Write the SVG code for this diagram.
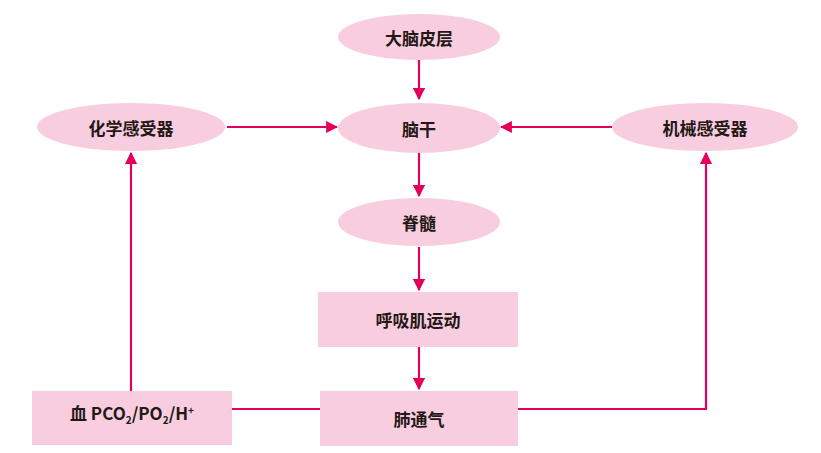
<svg xmlns="http://www.w3.org/2000/svg" width="821" height="453" viewBox="0 0 821 453">
<style>
.n{fill:#f9cde0;stroke:none}
.t{font-family:"Noto Sans CJK SC","Liberation Sans",sans-serif;font-size:17px;font-weight:bold;fill:#231815;text-anchor:middle;dominant-baseline:central}
.b{font-family:"Noto Sans CJK SC","Liberation Sans",sans-serif;font-size:17px;font-weight:bold;fill:#231815;text-anchor:middle}
.c{fill:none;stroke:#e4005a;stroke-width:2.2}
</style>
<defs>
<marker id="a" viewBox="0 0 10 10" refX="9" refY="5" markerWidth="5.5" markerHeight="5.5" orient="auto" markerUnits="strokeWidth">
<path d="M0,0 L10,5 L0,10 Z" fill="#e4005a"/>
</marker>
</defs>
<rect width="821" height="453" fill="#fff"/>
<g id="connectors">
<line class="c" x1="419" y1="60" x2="419" y2="99" marker-end="url(#a)"/>
<line class="c" x1="227" y1="127" x2="337" y2="127" marker-end="url(#a)"/>
<line class="c" x1="612" y1="127" x2="501" y2="127" marker-end="url(#a)"/>
<line class="c" x1="419" y1="153" x2="419" y2="196" marker-end="url(#a)"/>
<line class="c" x1="419" y1="247" x2="419" y2="290" marker-end="url(#a)"/>
<line class="c" x1="419" y1="347" x2="419" y2="389" marker-end="url(#a)"/>
<line class="c" x1="232" y1="409" x2="320" y2="409"/>
<polyline class="c" points="518,409 706,409 706,153" marker-end="url(#a)"/>
<line class="c" x1="131" y1="391" x2="131" y2="153" marker-end="url(#a)"/>
</g>
<g id="dnpc">
<ellipse class="n" cx="419" cy="37" rx="81" ry="23"/>
<text class="t" x="419" y="37">大脑皮层</text>
</g>
<g id="ng">
<ellipse class="n" cx="419" cy="128" rx="81" ry="25"/>
<text class="t" x="419" y="128">脑干</text>
</g>
<g id="hxgsq">
<ellipse class="n" cx="131" cy="127" rx="94" ry="24"/>
<text class="t" x="131" y="127">化学感受器</text>
</g>
<g id="jxgsq">
<ellipse class="n" cx="705" cy="127" rx="93" ry="24"/>
<text class="t" x="705" y="127">机械感受器</text>
</g>
<g id="js">
<ellipse class="n" cx="419" cy="222" rx="81" ry="24"/>
<text class="t" x="419" y="222">脊髓</text>
</g>
<g id="hxjyd">
<rect class="n" x="318" y="292" width="200" height="55"/>
<text class="t" x="418" y="319">呼吸肌运动</text>
</g>
<g id="ftq">
<rect class="n" x="320" y="391" width="198" height="55"/>
<text class="t" x="419" y="418">肺通气</text>
</g>
<g id="blood">
<rect class="n" x="32" y="391" width="200" height="54"/>
<text class="b" x="132" y="420"><tspan>血 PCO</tspan><tspan font-size="10" dy="4">2</tspan><tspan dy="-4">/PO</tspan><tspan font-size="10" dy="4">2</tspan><tspan dy="-4">/H</tspan><tspan font-size="10" dy="-6">+</tspan></text>
</g>
</svg>
